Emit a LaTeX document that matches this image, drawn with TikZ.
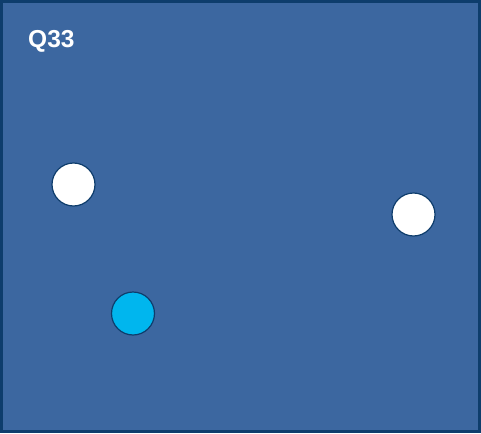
\documentclass[tikz,border=0pt]{standalone}
\usepackage{fontspec}
\setmainfont{Liberation Sans}
\definecolor{bgblue}{HTML}{3C67A0}
\definecolor{edgenavy}{HTML}{0E3D6C}
\definecolor{cyanfill}{HTML}{00B6EE}
\begin{document}
\begin{tikzpicture}[x=1pt,y=-1pt,
  dot/.style={circle,draw=edgenavy,line width=1.2pt,minimum size=43pt,inner sep=0pt}]
\useasboundingbox (0,0) rectangle (481,433);
\draw[fill=bgblue,draw=edgenavy,line width=3pt] (1.5,1.5) rectangle (479.5,431.5);
\node[anchor=base west,text=white,font=\bfseries\fontsize{24.5}{28}\selectfont,inner sep=0pt] (title) at (28,48) {Q33};
\node[dot,fill=white] (w1) at (73.5,184.5) {};
\node[dot,fill=white] (w2) at (413.5,214.5) {};
\node[dot,fill=cyanfill] (c1) at (133,313.5) {};
\end{tikzpicture}
\end{document}
